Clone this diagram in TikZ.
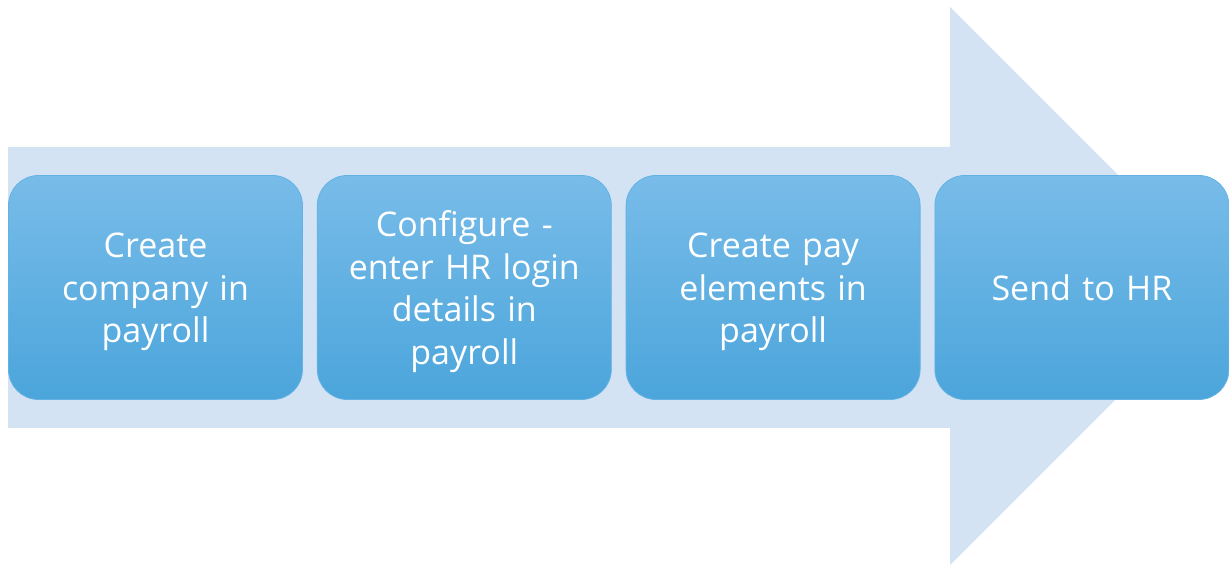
\documentclass[tikz,border=0pt]{standalone}
\usepackage{fontspec}
\setmainfont{Open Sans}
\usetikzlibrary{positioning}
\definecolor{arrowbg}{HTML}{D3E3F3}
\definecolor{boxtop}{HTML}{78BCE9}
\definecolor{boxmid}{HTML}{5DB5EA}
\definecolor{boxbot}{HTML}{4BA5DB}
\definecolor{boxline}{HTML}{64B2E4}
\begin{document}
\begin{tikzpicture}[x=1pt, y=1pt,
  stage/.style={draw=boxline, line width=0.8pt, rounded corners=30pt,
    top color=boxtop, middle color=boxmid, bottom color=boxbot,
    minimum width=294pt, minimum height=224pt, text width=250pt, align=center,
    text=white, font=\fontsize{34}{42.5}\selectfont},
  stagelines/.style={stage, execute at begin node={\rule{0pt}{34pt}}}]
  \useasboundingbox (0,0) rectangle (1229,565);
  \fill[arrowbg] (8,137) -- (950,137) -- (950,0) -- (1229,279) -- (950,558)
    -- (950,418) -- (8,418) -- cycle;
  \node[stagelines] (company) at (155.5,277.5) {Create\\company in\\payroll};
  \node[stagelines, right=14pt of company] (configure) {Configure -\\enter HR login\\details in\\payroll};
  \node[stagelines, right=14pt of configure] (elements) {Create pay\\elements in\\payroll};
  \node[stage, right=14pt of elements] (send) {Send to HR};
\end{tikzpicture}
\end{document}
